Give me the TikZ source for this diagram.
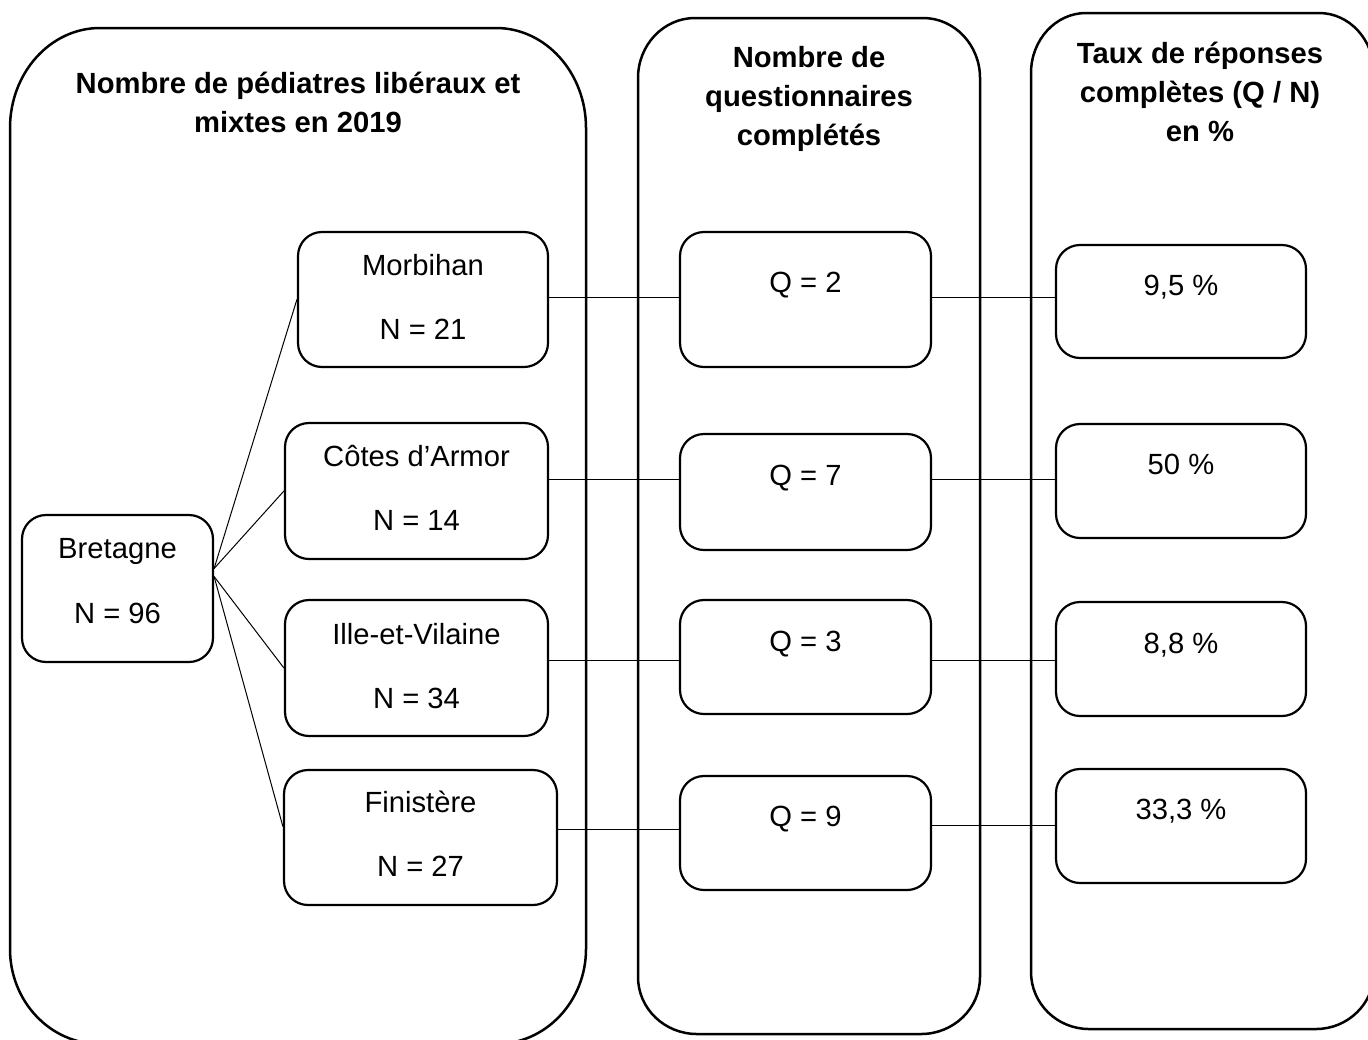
\documentclass[tikz,border=0pt]{standalone}
\usepackage{fontspec}
\setmainfont{Liberation Sans}
\usetikzlibrary{calc}
\newcommand\bigbox[9][]{%
 \draw[cont,#1] (#2,{#3+#7}) .. controls (#2,{#3+#7-0.552*#7}) and ({#2+#6-0.552*#6},#3) .. ({#2+#6},#3)
 -- ({#4-#6},#3) .. controls ({#4-#6+0.552*#6},#3) and (#4,{#3+#7-0.552*#7}) .. (#4,{#3+#7})
 -- (#4,{#5-#9}) .. controls (#4,{#5-#9+0.552*#9}) and ({#4-#8+0.552*#8},#5) .. ({#4-#8},#5)
 -- ({#2+#8},#5) .. controls ({#2+#8-0.552*#8},#5) and (#2,{#5-#9+0.552*#9}) .. (#2,{#5-#9}) -- cycle;}
\begin{document}
\begin{tikzpicture}[x=0.5pt,y=-0.5pt,
  cont/.style={line width=1.25pt},
  box/.style 2 args={draw, line width=1.1pt, rounded corners=12pt, inner sep=0pt,
    minimum width=#1pt, minimum height=#2pt},
  txt/.style={anchor=base, inner sep=0pt, font=\fontsize{14.6pt}{19.5pt}\selectfont},
  ttl/.style={anchor=base, align=center, inner sep=0pt, font=\fontsize{14.6pt}{19.5pt}\selectfont\bfseries},
  conn/.style={line width=0.5pt}]
\useasboundingbox (0,0) rectangle (1368,1039);
\clip (0,0) rectangle (1368,1039);
\fill[white] (0,0) rectangle (1368,1039);

% containers
\bigbox{10}{28}{586}{1044}{90}{100}{90}{95}
\bigbox{638}{18}{980}{1034}{57}{60}{59}{57}
\bigbox{1031}{13}{1374}{1029}{55}{60}{58}{57}

% titles (base anchor = baseline of the last line)
\node[ttl] (t1) at (298,132) {Nombre de pédiatres libéraux et\\mixtes en 2019};
\node[ttl] (t2) at (809,145) {Nombre de\\questionnaires\\complétés};
\node[ttl] (t3) at (1200,141) {Taux de réponses\\complètes (Q / N)\\en \%};

% left column boxes
\node[box={95.5}{73.5}] (bret) at (117.5,588.5) {};
\node[box={125}{67.5}] (morb) at (423,299.5) {};
\node[box={131.5}{68}] (cotes) at (416.5,491) {};
\node[box={131.5}{68}] (ille) at (416.5,668) {};
\node[box={136.5}{67.5}] (fin) at (420.5,837.5) {};

\node[txt] (bretA) at (117.5,558.5) {Bretagne};
\node[txt] (bretB) at (117.5,623.5) {N = 96};
\node[txt] (morbA) at (423,275.5) {Morbihan};
\node[txt] (morbB) at (423,339.5) {N = 21};
\node[txt] (cotesA) at (416.5,466.5) {Côtes d’Armor};
\node[txt] (cotesB) at (416.5,530.5) {N = 14};
\node[txt] (illeA) at (416.5,644.5) {Ille-et-Vilaine};
\node[txt] (illeB) at (416.5,708.5) {N = 34};
\node[txt] (finA) at (420.5,812.5) {Finistère};
\node[txt] (finB) at (420.5,876.5) {N = 27};

% middle column boxes
\node[box={125.5}{67.5}] (q2) at (805.5,299.5) {};
\node[box={125.5}{58}] (q7) at (805.5,492) {};
\node[box={125.5}{57}] (q3) at (805.5,657) {};
\node[box={125.5}{57}] (q9) at (805.5,833) {};
\node[txt] (q2t) at (805.5,292.5) {Q = 2};
\node[txt] (q7t) at (805.5,485.5) {Q = 7};
\node[txt] (q3t) at (805.5,651.5) {Q = 3};
\node[txt] (q9t) at (805.5,826.5) {Q = 9};

% right column boxes
\node[box={125}{56.5}] (p1) at (1181,301.5) {};
\node[box={125}{57}] (p2) at (1181,481) {};
\node[box={125}{57}] (p3) at (1181,659) {};
\node[box={125}{57}] (p4) at (1181,826) {};
\node[txt] (p1t) at (1181,295.5) {9,5 \%};
\node[txt] (p2t) at (1181,474.5) {50 \%};
\node[txt] (p3t) at (1181,653.5) {8,8 \%};
\node[txt] (p4t) at (1181,819.5) {33,3 \%};

% fan from Bretagne
\coordinate (bu) at ($(bret.east)+(0,-20)$);
\coordinate (bl) at ($(bret.east)+(0,-12)$);
\draw[conn] (bu) -- (morb.west);
\draw[conn] (bu) -- (cotes.west);
\draw[conn] (bl) -- (ille.west);
\draw[conn] (bl) -- ($(fin.west)+(0,-11)$);

% horizontal connectors
\draw[conn] (morb.east |- 0,297) -- (q2.west |- 0,297);
\draw[conn] (q2.east |- 0,297) -- (p1.west |- 0,297);
\draw[conn] (cotes.east |- 0,479) -- (q7.west |- 0,479);
\draw[conn] (q7.east |- 0,479) -- (p2.west |- 0,479);
\draw[conn] (ille.east |- 0,660) -- (q3.west |- 0,660);
\draw[conn] (q3.east |- 0,660) -- (p3.west |- 0,660);
\draw[conn] (fin.east |- 0,829) -- (q9.west |- 0,829);
\draw[conn] (q9.east |- 0,825) -- (p4.west |- 0,825);
\end{tikzpicture}
\end{document}
